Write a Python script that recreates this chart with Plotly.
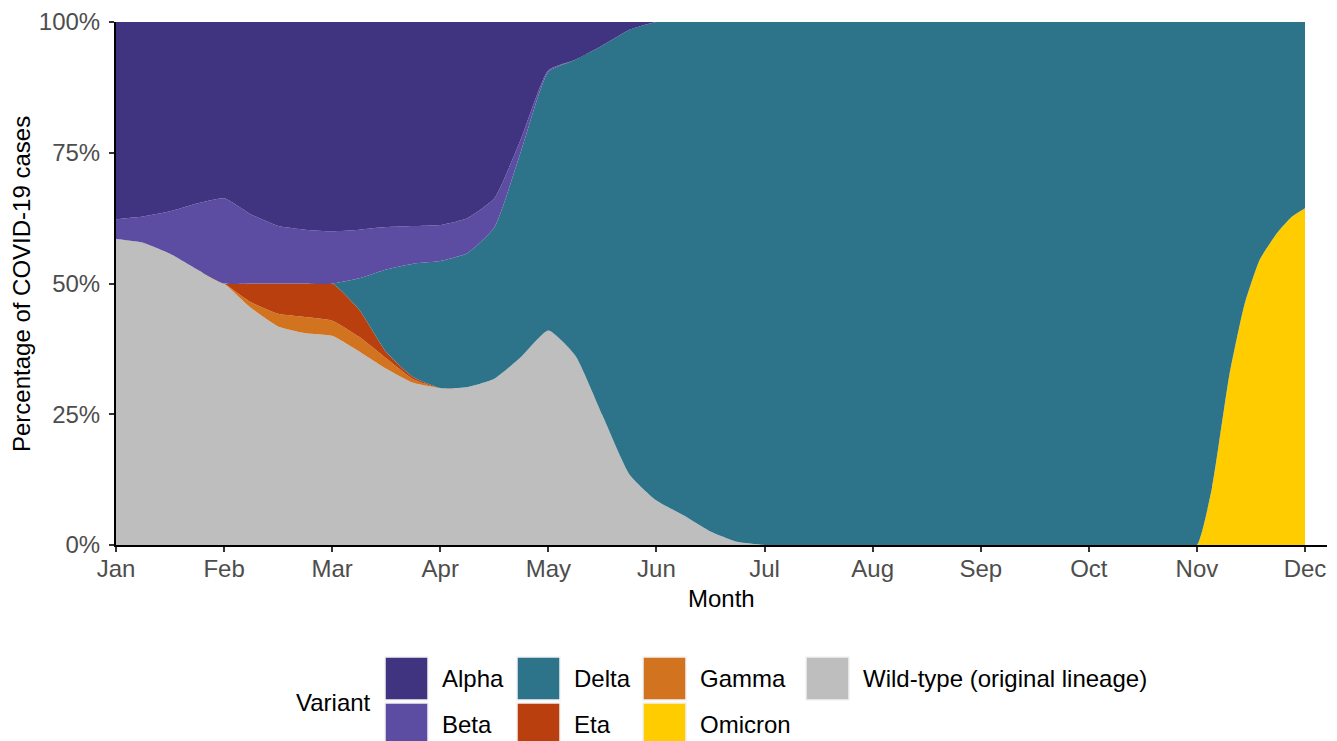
import plotly.graph_objects as go

# ---------------- data ----------------
month_labels = ["Jan", "Feb", "Mar", "Apr", "May", "Jun",
                "Jul", "Aug", "Sep", "Oct", "Nov", "Dec"]
month_ticks = [1, 2, 3, 4, 5, 6, 7, 8, 9, 10, 11, 12]

x_month = [1.0, 1.25, 1.5, 1.75, 2.0, 2.25, 2.5, 2.75, 3.0, 3.25, 3.5, 3.75,
           4.0, 4.25, 4.5, 4.75, 5.0, 5.25, 5.5, 5.75, 6.0, 6.25, 6.5, 6.75,
           7.0, 8.0, 9.0, 10.0, 10.86,
           11.0, 11.14, 11.3, 11.44, 11.58, 11.74, 11.88, 12.0]

wild_type = [58.5, 57.8, 55.7, 52.7, 50.0, 45.3, 41.8, 40.5, 40.0, 37.0, 33.7, 31.0,
             30.0, 30.2, 31.8, 36.0, 41.0, 36.2, 24.8, 13.5, 8.5, 5.7, 2.6, 0.6,
             0.0, 0, 0, 0, 0,
             0, 0, 0, 0, 0, 0, 0, 0]
omicron = [0, 0, 0, 0, 0, 0, 0, 0, 0, 0, 0, 0,
           0, 0, 0, 0, 0, 0, 0, 0, 0, 0, 0, 0,
           0, 0, 0, 0, 0,
           0, 11, 32.5, 46, 54.5, 59.6, 62.8, 64.4]
gamma = [0, 0, 0, 0, 0, 1.1, 2.4, 3.1, 2.9, 2.8, 2.0, 0.7,
         0, 0, 0, 0, 0, 0, 0, 0, 0, 0, 0, 0,
         0, 0, 0, 0, 0,
         0, 0, 0, 0, 0, 0, 0, 0]
eta = [0, 0, 0, 0, 0, 3.6, 5.8, 6.4, 7.1, 5.2, 1.2, 0.4,
       0, 0, 0, 0, 0, 0, 0, 0, 0, 0, 0, 0,
       0, 0, 0, 0, 0,
       0, 0, 0, 0, 0, 0, 0, 0]
delta = [0, 0, 0, 0, 0, 0, 0, 0, 0, 6.0, 15.8, 21.7,
         24.3, 25.6, 28.9, 39.5, 49.5, 56.6, 70.7, 85.0, 91.5, 94.3, 97.4, 99.4,
         100, 100, 100, 100, 100,
         100, 89, 67.5, 54, 45.5, 40.4, 37.2, 35.6]
beta = [3.8, 5.0, 8.1, 12.6, 16.3, 13.2, 11.0, 10.3, 10.0, 9.3, 8.1, 7.2,
        6.9, 6.7, 5.6, 2.3, 0.3, 0, 0, 0, 0, 0, 0, 0,
        0, 0, 0, 0, 0,
        0, 0, 0, 0, 0, 0, 0, 0]
alpha = [37.7, 37.2, 36.2, 34.7, 33.7, 36.8, 39.0, 39.7, 40.0, 39.7, 39.2, 39.0,
         38.8, 37.5, 33.7, 22.2, 9.2, 7.2, 4.5, 1.5, 0, 0, 0, 0,
         0, 0, 0, 0, 0,
         0, 0, 0, 0, 0, 0, 0, 0]

y_ticks = [0, 25, 50, 75, 100]
y_tick_labels = ["0%", "25%", "50%", "75%", "100%"]

variant_names = ["Alpha", "Beta", "Delta", "Eta", "Gamma", "Omicron",
                 "Wild-type (original lineage)"]
variant_colors = ["#403480", "#5C4CA2", "#2D748B", "#B9400E", "#D27320",
                  "#FFCC00", "#BEBEBE"]
variant_values = [alpha, beta, delta, eta, gamma, omicron, wild_type]

# stacking order, bottom to top
stack_order = ["Wild-type (original lineage)", "Omicron", "Gamma", "Eta",
               "Delta", "Beta", "Alpha"]

FONT = "Liberation Sans, Arial, sans-serif"
FS = 24
OFF = 8                       # page body margin of the browser
W, H = 1337 - OFF, 741 - OFF
PL, PR, PT, PB = 116 - OFF, 1327 - OFF, 22 - OFF, 545 - OFF   # plot area

fig = go.Figure()
for name in stack_order:
    i = variant_names.index(name)
    fig.add_trace(go.Scatter(
        x=x_month, y=variant_values[i], name=name,
        mode="lines", stackgroup="one", groupnorm="percent",
        line=dict(width=0, color=variant_colors[i], shape="spline",
                  smoothing=0.5),
        fillcolor=variant_colors[i], showlegend=False,
        hoverinfo="x+y+name",
    ))

x_end = 1 + (1327 - 116) / ((1305 - 116) / 11)

fig.update_layout(
    width=W, height=H,
    margin=dict(l=PL, r=W - PR, t=PT, b=H - PB, autoexpand=False),
    paper_bgcolor="white", plot_bgcolor="white",
    font=dict(family=FONT, size=FS, color="#4D4D4D"),
    xaxis=dict(
        range=[1, x_end], tickvals=month_ticks, ticktext=month_labels,
        showline=True, linecolor="black", linewidth=2,
        ticks="outside", ticklen=5, tickwidth=2, tickcolor="#333333",
        showgrid=False, zeroline=False, automargin=False,
        ticklabelstandoff=-4,
        tickfont=dict(family=FONT, size=FS, color="#4D4D4D"),
    ),
    yaxis=dict(
        range=[0, 100], tickvals=y_ticks, ticktext=y_tick_labels,
        showline=True, linecolor="black", linewidth=2,
        ticks="outside", ticklen=5, tickwidth=2, tickcolor="#333333",
        showgrid=False, zeroline=False, automargin=False,
        ticklabelstandoff=4,
        tickfont=dict(family=FONT, size=FS, color="#4D4D4D"),
    ),
)


def px2x(px):
    """reference-image pixel x -> paper coordinate"""
    return (px - OFF - PL) / (PR - PL)


def py2y(py):
    """reference-image pixel y -> paper coordinate"""
    return (PB - (py - OFF)) / (PB - PT)


annotations = [
    dict(text="Month", x=px2x(721), y=py2y(598), xref="paper", yref="paper",
         showarrow=False, font=dict(family=FONT, size=FS, color="black"),
         xanchor="center", yanchor="middle"),
    dict(text="Percentage of COVID-19 cases", x=px2x(21), y=py2y(284),
         xref="paper", yref="paper", showarrow=False, textangle=-90,
         font=dict(family=FONT, size=FS, color="black"),
         xanchor="center", yanchor="middle"),
    dict(text="Variant", x=px2x(373), y=py2y(702), xref="paper", yref="paper",
         showarrow=False, font=dict(family=FONT, size=FS, color="black"),
         xanchor="right", yanchor="middle"),
]

# legend drawn manually: 2 rows, filled column by column
key_cols = [385, 517, 643, 806]
key_rows = [657, 703]
key_size = 43
shapes = []
for idx, name in enumerate(variant_names):
    col, row = divmod(idx, 2)
    kx, ky = key_cols[col], key_rows[row]
    shapes.append(dict(
        type="rect", xref="paper", yref="paper",
        x0=px2x(kx), x1=px2x(kx + key_size),
        y0=py2y(ky), y1=py2y(ky + key_size),
        fillcolor=variant_colors[idx], line=dict(color="#F2F2F2", width=1.5),
        layer="above",
    ))
    annotations.append(dict(
        text=name, x=px2x(kx + key_size + 12), y=py2y(ky + key_size / 2),
        xref="paper", yref="paper", showarrow=False,
        font=dict(family=FONT, size=FS, color="black"),
        xanchor="left", yanchor="middle",
    ))

fig.update_layout(annotations=annotations, shapes=shapes)

fig.write_html("out.html")
